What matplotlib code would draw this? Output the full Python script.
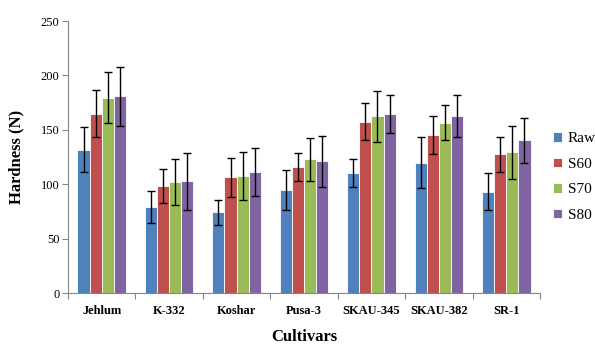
import numpy as np
import matplotlib
matplotlib.use("Agg")
import matplotlib.pyplot as plt

cultivars = ["Jehlum", "K-332", "Koshar", "Pusa-3", "SKAU-345", "SKAU-382", "SR-1"]
series = ["Raw", "S60", "S70", "S80"]
raw = [131.7, 79.0, 74.1, 94.7, 110.3, 119.8, 93.1]
s60 = [164.8, 98.3, 106.3, 115.5, 157.5, 145.2, 127.5]
s70 = [179.5, 102.0, 107.8, 122.9, 162.4, 156.6, 129.3]
s80 = [180.8, 102.6, 111.2, 121.0, 164.8, 162.7, 140.3]
raw_err = [20.5, 14.5, 11.3, 18.3, 13.2, 23.6, 17.0]
s60_err = [21.6, 15.5, 18.2, 13.0, 16.9, 17.4, 16.1]
s70_err = [23.5, 21.2, 22.2, 19.5, 23.6, 16.1, 24.4]
s80_err = [27.0, 25.9, 22.5, 23.7, 17.5, 19.1, 20.4]
colors = ["#4F81BD", "#C0504D", "#9BBB59", "#8064A2"]

values = [raw, s60, s70, s80]
errors = [raw_err, s60_err, s70_err, s80_err]

plt.rcParams['font.family'] = ['Liberation Serif', 'DejaVu Serif']

fig = plt.figure(figsize=(5.95, 3.44), dpi=100)
ax = fig.add_axes([68/595, 1-293/344, (540-68)/595, (293-21)/344])

x = np.arange(len(cultivars))
bw = 0.18
for i, (name, vals, errs, c) in enumerate(zip(series, values, errors, colors)):
    pos = x + (i - 1.5) * bw
    ax.bar(pos, vals, width=bw, color=c, edgecolor='white', linewidth=0.6,
           label=name, zorder=2)
    ax.errorbar(pos, vals, yerr=errs, fmt='none', ecolor='black',
                elinewidth=1.0, capsize=3, capthick=1.0, zorder=3)

ax.set_xlim(-0.5, len(cultivars) - 0.5)
ax.set_ylim(0, 250)
ax.set_yticks([0, 50, 100, 150, 200, 250])
ax.set_yticklabels(["0", "50", "100", "150", "200", "250"], fontsize=9)
ax.set_xticks(x)
ax.set_xticklabels(cultivars, fontsize=9, fontweight='bold')
ax.set_xticks(np.arange(len(cultivars) + 1) - 0.5, minor=True)
ax.tick_params(axis='x', which='major', length=0, pad=9)
ax.tick_params(axis='x', which='minor', length=4, color='#868686', width=0.8)
ax.tick_params(axis='y', length=4, color='#868686', width=0.8, pad=2)

for s in ['top', 'right']:
    ax.spines[s].set_visible(False)
for s in ['left', 'bottom']:
    ax.spines[s].set_color('#868686')
    ax.spines[s].set_linewidth(0.8)

ax.set_ylabel("Hardness (N)", fontsize=12, fontweight='bold', labelpad=12)
ax.set_xlabel("Cultivars", fontsize=12, fontweight='bold', labelpad=8)

leg = ax.legend(loc='center left', bbox_to_anchor=(553/595, 1-177/344),
                bbox_transform=fig.transFigure, frameon=False, fontsize=11,
                handlelength=0.6, handleheight=0.6, handletextpad=0.35,
                labelspacing=0.8, borderaxespad=0, borderpad=0)

fig.savefig("out.png", dpi=100)
